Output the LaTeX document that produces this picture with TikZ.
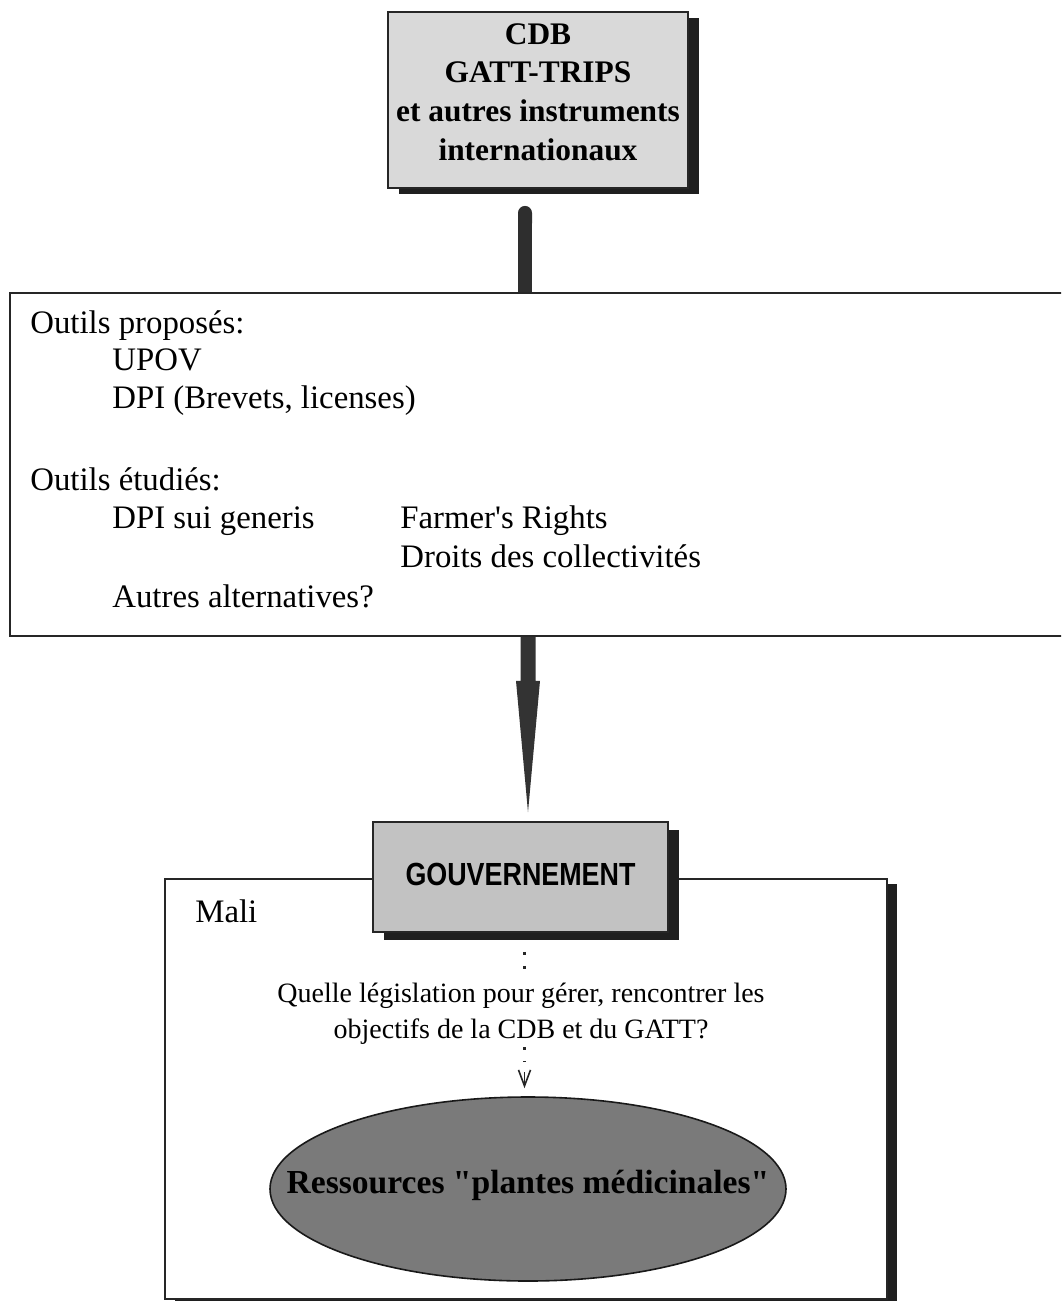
\documentclass[tikz,border=0pt]{standalone}
\usepackage{fontspec}
\setmainfont{Liberation Serif}[Ligatures=TeXOff]
\newfontfamily\govfont[FakeStretch=0.84]{Liberation Sans}
\usetikzlibrary{shadows,calc,arrows.meta,shapes.geometric}
\begin{document}
\begin{tikzpicture}[x=0.5pt,y=-0.5pt,
  frame/.style={draw=black!85, line width=0.9pt, inner sep=0pt},
  body/.style={font=\fontsize{16.4}{19.4}\selectfont, inner sep=0pt, anchor=base west},
  hbox/.style={frame, fill=black!15, drop shadow={shadow xshift=5.5pt, shadow yshift=-3pt, fill=black!88, opacity=1}},
  govbox/.style={frame, fill=black!24, drop shadow={shadow xshift=5.5pt, shadow yshift=-4pt, fill=black!88, opacity=1}},
  malibox/.style={frame, fill=white, drop shadow={shadow xshift=5pt, shadow yshift=-2.5pt, fill=black!88, opacity=1}},
  bar/.style={line width=7pt, line cap=butt, draw=black!82, {Round Cap[]}-},
  arrowfill/.style={fill=black!80},
  dotline/.style={line width=1.5pt, draw=black!85, dash pattern=on 1.5pt off 5.5pt},
  tipline/.style={line width=0.8pt, draw=black!85, -{Straight Barb[length=8pt, width=6pt]}},
  ellnode/.style={ellipse, draw=black!90, line width=0.8pt, fill=black!52, inner sep=0pt}
]
\useasboundingbox (0,0) rectangle (1061,1301);
\clip (0,0) rectangle (1061,1301);

% top box
\node[hbox, minimum width=150pt, minimum height=88pt,
      label={[font=\bfseries\fontsize{15.7}{19.4}\selectfont, align=center, inner sep=0pt, yshift=4pt]center:{CDB\\GATT-TRIPS\\et autres instruments\\internationaux}}] (top) at (538,100) {};

% middle box
\node[frame, minimum width=530pt, minimum height=171.5pt] (mid) at (540,464.5) {};
\node[body] (op) at (30,333) {Outils proposés:};
\node[body] (upov) at (112,370) {UPOV};
\node[body] (dpi) at (112,408) {DPI (Brevets, licenses)};
\node[body] (oe) at (30,490) {Outils étudiés:};
\node[body] (sui) at (112,528) {DPI sui generis};
\node[body] (far) at (400,528) {Farmer's Rights};
\node[body] (dro) at (400,567) {Droits des collectivités};
\node[body] (aut) at (112,607) {Autres alternatives?};

% bar from top box to middle box
\draw[bar] ([xshift=-6.5pt,yshift=-8.5pt]top.south) -- ([xshift=-6.5pt]top.south |- mid.north);

% Mali box
\node[malibox, minimum width=361pt, minimum height=210pt] (mali) at (526,1089) {};
\node[body] (malit) at (195,922) {Mali};

% government box
\node[govbox, minimum width=147.5pt, minimum height=55pt,
      font=\govfont\bfseries\fontsize{16}{18}\selectfont] (gov) at (520.5,877) {\raisebox{2.5pt}{GOUVERNEMENT}};

% big arrow from middle box to government box
\coordinate (as) at ([xshift=-6pt]mid.south);
\coordinate (at) at ($(gov.north -| as)+(0,-9)$);
\fill[arrowfill] ($(as)+(-7.5,0)$) -- ($(as)+(-7.5,44)$) -- ($(as)+(-12,44)$) -- (at)
  -- ($(as)+(12,44)$) -- ($(as)+(7.5,44)$) -- ($(as)+(7.5,0)$) -- cycle;

% question
\node[font=\fontsize{14}{18}\selectfont, align=center, inner sep=0pt] (q) at (521,1014)
  {Quelle législation pour gérer, rencontrer les\\objectifs de la CDB et du GATT?};

% ellipse
\node[ellnode, minimum width=258pt, minimum height=92pt,
      label={[font=\bfseries\fontsize{16.8}{20}\selectfont, inner sep=0pt, yshift=2pt]center:Ressources "plantes médicinales"}] (ell) at (528,1189) {};

% dotted connectors
\coordinate (dx) at ([xshift=2pt]gov.south);
\draw[dotline, shorten <=9.5pt, shorten >=7pt] (dx) -- (dx |- q.north);
\draw[dotline, shorten <=1pt, shorten >=17pt] (dx |- q.south) -- (dx |- ell.north);
\draw[tipline, shorten >=4pt] ($(dx |- ell.north)+(0,-24)$) -- (dx |- ell.north);
\end{tikzpicture}
\end{document}
